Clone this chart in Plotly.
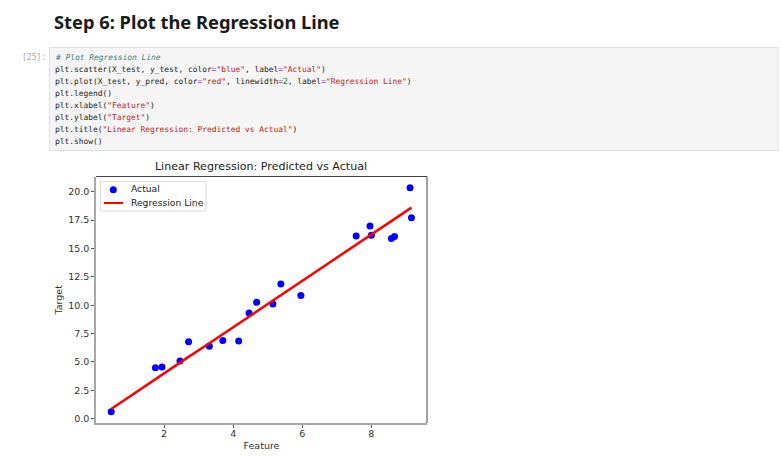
import plotly.graph_objects as go

W, H = 782, 456

# values
x_test = [0.47, 1.75, 1.94, 2.46, 2.71, 3.31, 3.70, 4.16, 4.46, 4.68,
          5.15, 5.38, 5.96, 7.56, 7.96, 8.00, 8.58, 8.67, 9.12, 9.16]
y_test = [0.62, 4.49, 4.55, 5.08, 6.78, 6.38, 6.90, 6.85, 9.31, 10.25,
          10.10, 11.86, 10.86, 16.10, 16.98, 16.17, 15.88, 16.05, 20.35, 17.70]
y_pred = [0.85, 3.50, 3.90, 4.95, 5.45, 6.65, 7.45, 8.40, 9.00, 9.45,
          10.40, 10.90, 12.05, 15.30, 16.15, 16.20, 17.40, 17.60, 18.50, 18.60]

y_ticks = [0, 2.5, 5, 7.5, 10, 12.5, 15, 17.5, 20]
x_ticks = [2, 4, 6, 8]

heading = "Step 6: Plot the Regression Line"
prompt = "[25]:"
chart_title = "Linear Regression: Predicted vs Actual"
legend_labels = ["Actual", "Regression Line"]


def s(text):
    return f'<span style="color:#ba2121">"{text}"</span>'


def op(text="="):
    return f'<span style="color:#aa22ff">{text}</span>'


def num(text):
    return f'<span style="color:#008000">{text}</span>'


code_lines = [
    '<i><span style="color:#408080"># Plot Regression Line</span></i>',
    f'plt.scatter(X_test, y_test, color{op()}{s("blue")}, label{op()}{s("Actual")})',
    f'plt.plot(X_test, y_pred, color{op()}{s("red")}, linewidth{op()}{num("2")}, label{op()}{s("Regression Line")})',
    'plt.legend()',
    f'plt.xlabel({s("Feature")})',
    f'plt.ylabel({s("Target")})',
    f'plt.title({s("Linear Regression: Predicted vs Actual")})',
    'plt.show()',
]

fig = go.Figure()
fig.add_trace(go.Scatter(x=x_test, y=y_test, mode="markers", name=legend_labels[0],
                         marker=dict(color="blue", size=7)))
fig.add_trace(go.Scatter(x=x_test, y=y_pred, mode="lines", name=legend_labels[1],
                         line=dict(color="red", width=2.5)))


def px_x(v):
    return v / W


def px_y(v):
    return 1 - v / H


def text(x, y, t, font, color, size, **kw):
    fig.add_annotation(x=px_x(x), y=px_y(y), xref="paper", yref="paper", text=t,
                       showarrow=False, xanchor="left", yanchor="middle", borderpad=0,
                       font=dict(family=font, color=color, size=size), **kw)


def box(kind, x0, x1, y0, y1, **kw):
    fig.add_shape(type=kind, xref="paper", yref="paper",
                  x0=px_x(x0), x1=px_x(x1), y0=px_y(y0), y1=px_y(y1), **kw)


text(53, 21.5, f"<b>{heading}</b>", "Noto Sans", "#1a1a1a", 18.3)
text(21, 57, prompt, "DejaVu Sans Mono", "#a8a8a8", 8)
for i, line in enumerate(code_lines):
    text(53.5, 57 + i * 12.03, line, "DejaVu Sans Mono", "#222222", 7.9)

# code cell box
box("rect", 49.5, 778, 47.5, 150.5, layer="below", fillcolor="#f5f5f5",
    line=dict(color="#e0e0e0", width=1))

# top and right spines are darker than the other two
fig.add_shape(type="line", xref="x domain", yref="y domain", x0=0, x1=1, y0=1, y1=1,
              line=dict(color="#444444", width=1))
fig.add_shape(type="line", xref="x domain", yref="y domain", x0=1, x1=1, y0=0, y1=1,
              line=dict(color="#444444", width=1))

# plotly's own legend rows are too tall for this one, so it is laid out by hand
box("rect", 100.5, 206, 181.5, 211, fillcolor="white", line=dict(color="#dcdcdc", width=1))
box("circle", 109.8, 116.8, 186.2, 193.2, fillcolor="blue", line=dict(width=0))
box("line", 104, 123, 203, 203, line=dict(color="red", width=2))
text(129.5, 188.5, legend_labels[0], "DejaVu Sans", "#222222", 9.2)
text(129.5, 202.5, legend_labels[1], "DejaVu Sans", "#222222", 9.2)

tick_font = dict(family="DejaVu Sans", size=9.5, color="#333333")
fig.update_layout(
    width=W, height=H, autosize=False,
    margin=dict(l=0, r=0, t=0, b=0),
    showlegend=False,
    paper_bgcolor="white", plot_bgcolor="white",
    font=dict(family="DejaVu Sans", color="#222222"),
    title=dict(text=chart_title, x=261 / W, xanchor="center", y=px_y(166), yanchor="middle",
               font=dict(family="DejaVu Sans", size=11.1, color="#222222")),
    xaxis=dict(domain=[96 / W, 427 / W], range=[0.03, 9.61], tickvals=x_ticks,
               showgrid=False, zeroline=False, showline=True, linecolor="#a8a8a8", linewidth=1.5,
               ticks="outside", ticklen=3, tickcolor="#555555", tickfont=tick_font,
               ticklabelstandoff=-2,
               title=dict(text="Feature", standoff=4, font=dict(family="DejaVu Sans", size=9.5, color="#333333"))),
    yaxis=dict(domain=[px_y(423), px_y(176.5)], range=[-0.38, 21.34], tickvals=y_ticks, tickformat=".1f",
               showgrid=False, zeroline=False, showline=True, linecolor="#a8a8a8", linewidth=1.5,
               ticks="outside", ticklen=3, tickcolor="#555555", tickfont=tick_font,
               title=dict(text="Target", standoff=4, font=dict(family="DejaVu Sans", size=9.5, color="#333333"))),
)

fig.write_html("out.html", config={"displayModeBar": False},
               post_script="document.body.style.margin='0';")
